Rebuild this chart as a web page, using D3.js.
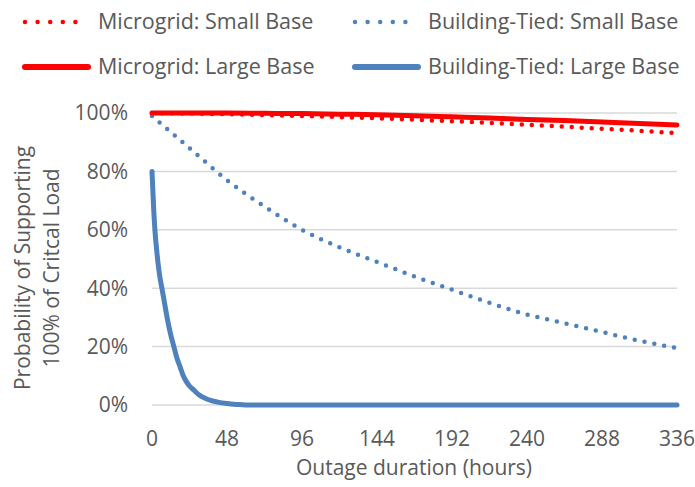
<!DOCTYPE html>
<html>
<head>
<meta charset="utf-8">
<script src="https://cdn.jsdelivr.net/npm/d3@7"></script>
<style>
  body { margin: 0; background: #fff; }
  text { font-family: "Open Sans", sans-serif; fill: #595959; }
</style>
</head>
<body>
<div id="chart"></div>
<script>
const width = 695;
const height = 487;

// hours, probability (%)
const mgSmallHours = [0, 24, 48, 72, 96, 120, 144, 168, 192, 216, 240, 264, 288, 312, 336];
const mgSmallVals = [100, 99.8, 99.6, 99.3, 99, 98.6, 98.2, 97.7, 97.2, 96.6, 96, 95.3, 94.6, 93.9, 93.1];

const mgLargeHours = [0, 24, 48, 72, 96, 120, 144, 168, 192, 216, 240, 264, 288, 312, 336];
const mgLargeVals = [100, 100, 100, 99.9, 99.8, 99.6, 99.4, 99.1, 98.7, 98.3, 97.8, 97.4, 96.9, 96.4, 95.9];

const btSmallHours = [0, 24, 48, 72, 96, 120, 144, 168, 192, 216, 240, 264, 288, 312, 336];
const btSmallVals = [99, 88, 77, 68, 60, 54, 49, 44, 39.5, 35, 31, 28, 25, 22, 19.5];

const btLargeHours = [0, 1, 2, 3, 4, 5, 6, 7, 8, 10, 12, 14, 16, 18, 20, 22, 24, 27, 30, 34, 38, 42, 48, 54, 60, 336];
const btLargeVals = [80, 68, 59, 53, 48, 44, 41, 38, 35, 29, 24, 20, 16, 13, 10, 8, 6.5, 5, 3.5, 2.3, 1.5, 1, 0.5, 0.2, 0, 0];

const xTicks = [0, 48, 96, 144, 192, 240, 288, 336];
const yTicks = [0, 20, 40, 60, 80, 100];

const seriesNames = ["Microgrid: Small Base", "Building-Tied: Small Base", "Microgrid: Large Base", "Building-Tied: Large Base"];

const red = "#ff0000";
const blue = "#4f81bd";

const series = [
  { name: seriesNames[0], hours: mgSmallHours, vals: mgSmallVals, color: red, dotted: true },
  { name: seriesNames[1], hours: btSmallHours, vals: btSmallVals, color: blue, dotted: true },
  { name: seriesNames[2], hours: mgLargeHours, vals: mgLargeVals, color: red, dotted: false },
  { name: seriesNames[3], hours: btLargeHours, vals: btLargeVals, color: blue, dotted: false }
];

const svg = d3.select("#chart")
  .append("svg")
  .attr("width", width)
  .attr("height", height);

const x = d3.scaleLinear().domain([0, 336]).range([152, 677]);
const y = d3.scaleLinear().domain([0, 100]).range([405, 113]);

// gridlines
svg.append("g")
  .selectAll("line")
  .data(yTicks)
  .enter()
  .append("line")
  .attr("x1", x(0))
  .attr("x2", x(336))
  .attr("y1", d => y(d))
  .attr("y2", d => y(d))
  .attr("stroke", "#d9d9d9")
  .attr("stroke-width", 1.5);

// y tick labels
svg.append("g")
  .selectAll("text")
  .data(yTicks)
  .enter()
  .append("text")
  .attr("x", 128)
  .attr("y", d => y(d))
  .attr("dy", "0.35em")
  .attr("text-anchor", "end")
  .style("font-size", "21px")
  .text(d => d + "%");

// x tick labels
svg.append("g")
  .selectAll("text")
  .data(xTicks)
  .enter()
  .append("text")
  .attr("x", d => x(d))
  .attr("y", 439)
  .attr("dy", "0.35em")
  .attr("text-anchor", "middle")
  .style("font-size", "21px")
  .text(d => d);

// axis titles
svg.append("text")
  .attr("x", 414)
  .attr("y", 468)
  .attr("dy", "0.35em")
  .attr("text-anchor", "middle")
  .style("font-size", "21px")
  .text("Outage duration (hours)");

const yTitle = svg.append("text")
  .attr("transform", "translate(23,268) rotate(-90)")
  .attr("text-anchor", "middle")
  .style("font-size", "21px");
yTitle.append("tspan").attr("x", 0).attr("dy", "0.35em").text("Probability of Supporting");
yTitle.append("tspan").attr("x", 0).attr("dy", "1.38em").text("100% of Critcal Load");

const line = d3.line()
  .x(d => x(d[0]))
  .y(d => y(d[1]))
  .curve(d3.curveMonotoneX);

// dotted first so the solid lines sit on top
const drawOrder = [series[1], series[0], series[3], series[2]];
drawOrder.forEach(s => {
  svg.append("path")
    .datum(s.hours.map((h, i) => [h, s.vals[i]]))
    .attr("d", line)
    .attr("fill", "none")
    .attr("stroke", s.color)
    .attr("stroke-width", s.dotted ? 4.5 : 5)
    .attr("stroke-linecap", "round")
    .attr("stroke-dasharray", s.dotted ? "0 10" : null);
});

// legend
const legend = svg.append("g").attr("id", "legend");
const legendPos = [[23, 22], [353, 22], [23, 67], [353, 67]];
series.forEach((s, i) => {
  const [lx, ly] = legendPos[i];
  legend.append("line")
    .attr("x1", lx + 2)
    .attr("x2", lx + 65)
    .attr("y1", ly)
    .attr("y2", ly)
    .attr("stroke", s.color)
    .attr("stroke-width", s.dotted ? 4.5 : 6)
    .attr("stroke-linecap", "round")
    .attr("stroke-dasharray", s.dotted ? "0 12.6" : null);
  legend.append("text")
    .attr("x", lx + 75)
    .attr("y", ly - 1)
    .attr("dy", "0.35em")
    .style("font-size", "21.5px")
    .text(s.name);
});
</script>
</body>
</html>
